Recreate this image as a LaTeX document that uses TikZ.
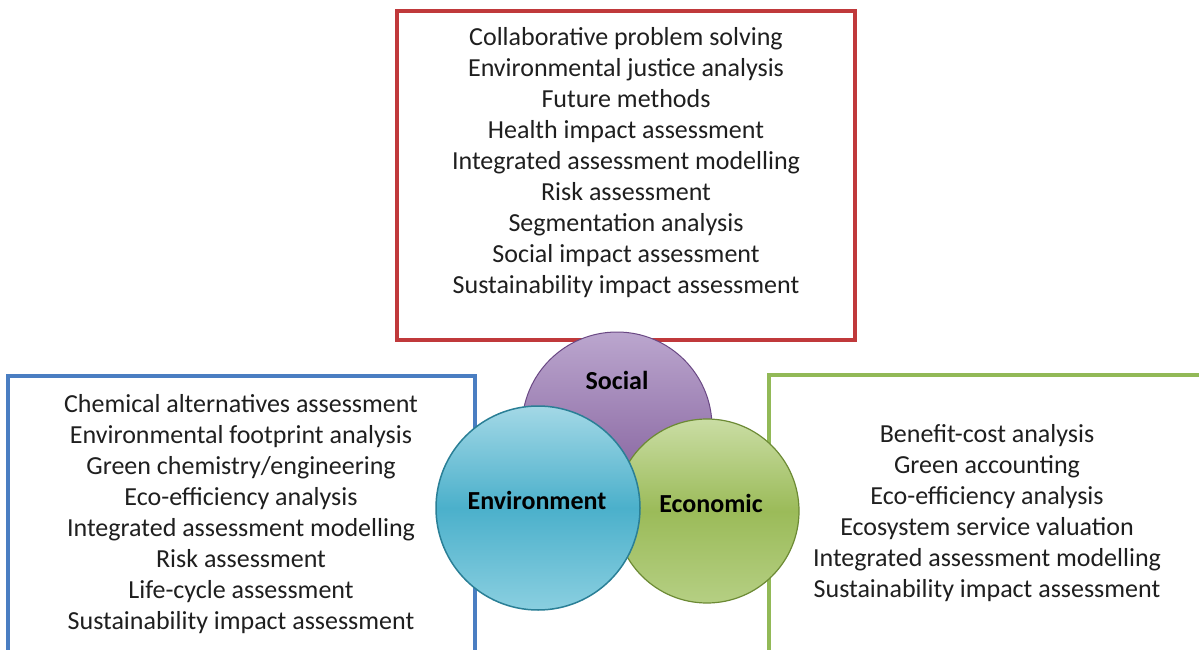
\documentclass[tikz,border=0pt]{standalone}
\usepackage{fontspec}
\setmainfont{Carlito}
\begin{document}
\begin{tikzpicture}[x=1pt,y=-1pt,
  listtext/.style={align=center,text=black!88,font=\fontsize{26}{31}\selectfont,inner sep=0pt},
  circlabel/.style={font=\fontsize{26}{30}\selectfont\bfseries,text=black,inner sep=0pt},
  boxline/.style={line width=3.3pt}]
\definecolor{redbox}{HTML}{C0393B}
\definecolor{bluebox}{HTML}{4A7EC2}
\definecolor{greenbox}{HTML}{92B957}
\definecolor{socTop}{HTML}{BBA6CE}
\definecolor{socBot}{HTML}{7A5494}
\definecolor{socLine}{HTML}{6A4884}
\definecolor{envTop}{HTML}{A3D8E6}
\definecolor{envMid}{HTML}{4BB0CB}
\definecolor{envBot}{HTML}{8ACFE0}
\definecolor{envLine}{HTML}{2A7F96}
\definecolor{ecoTop}{HTML}{CADDA4}
\definecolor{ecoMid}{HTML}{9BBB59}
\definecolor{ecoBot}{HTML}{B5CF83}
\definecolor{ecoLine}{HTML}{6C8A34}
\useasboundingbox (0,0) rectangle (1199,650);
\fill[white] (0,0) rectangle (1199,650);
% boxes
\draw[boxline,redbox] (397,11) rectangle (855,340);
\draw[boxline,bluebox] (8,660) -- (8,376) -- (475,376) -- (475,660);
\draw[boxline,greenbox] (769,660) -- (769,375) -- (1210,375);
% texts
\node[listtext] (social list) at (626,163) {Collaborative problem solving\\Environmental justice analysis\\Future methods\\Health impact assessment\\Integrated assessment modelling\\Risk assessment\\Segmentation analysis\\Social impact assessment\\Sustainability impact assessment};
\node[listtext] (env list) at (241,514) {Chemical alternatives assessment\\Environmental footprint analysis\\Green chemistry/engineering\\Eco-efficiency analysis\\Integrated assessment modelling\\Risk assessment\\Life-cycle assessment\\Sustainability impact assessment};
\node[listtext] (eco list) at (987,513) {Benefit-cost analysis\\Green accounting\\Eco-efficiency analysis\\Ecosystem service valuation\\Integrated assessment modelling\\Sustainability impact assessment};
% circles
\node[circle,minimum size=190pt,draw=socLine,line width=1pt,top color=socTop,bottom color=socBot,inner sep=0pt] (social) at (617,427) {};
\node[circle,minimum size=184pt,draw=ecoLine,line width=1.2pt,top color=ecoTop,bottom color=ecoBot,middle color=ecoMid,inner sep=0pt] (economic) at (707,511) {};
\node[circle,minimum size=204pt,draw=envLine,line width=1.5pt,top color=envTop,bottom color=envBot,middle color=envMid,inner sep=0pt] (environment) at (538,508) {};
\node[circlabel] (social label) at (617,380) {Social};
\node[circlabel] (env label) at (537,500) {Environment};
\node[circlabel] (eco label) at (711,503) {Economic};
\end{tikzpicture}
\end{document}
